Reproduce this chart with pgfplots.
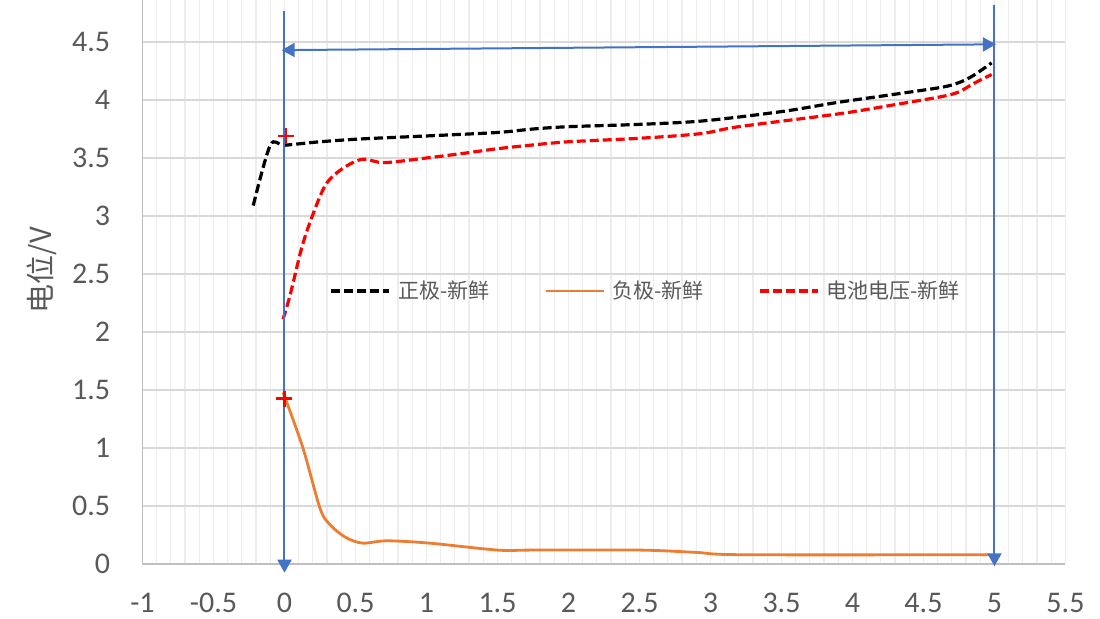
\documentclass[border=0pt]{standalone}
\usepackage{fontspec}
\setmainfont{Carlito}
\newfontfamily\cjk{Noto Sans CJK SC}
\usepackage{pgfplots}
\pgfplotsset{compat=1.18}
\usetikzlibrary{arrows.meta}
\definecolor{tickgray}{HTML}{595959}
\definecolor{hgrid}{HTML}{D9D9D9}
\definecolor{vgrid}{HTML}{EDEDED}
\definecolor{axgray}{HTML}{BFBFBF}
\definecolor{xlblue}{HTML}{4472C4}
\definecolor{xlorange}{HTML}{ED7D31}
\begin{document}
\begin{tikzpicture}
\path[use as bounding box] (-71.25pt,-27pt) rectangle (478.75pt,282pt);
\begin{axis}[
  at={(0,0)}, anchor=south west,
  scale only axis, width=461.5pt, height=282pt,
  xmin=-1, xmax=5.5, ymin=0, ymax=4.862,
  clip=false,
  xtick={-1,-0.5,0,0.5,1,1.5,2,2.5,3,3.5,4,4.5,5,5.5},
  ytick={0,0.5,1,1.5,2,2.5,3,3.5,4,4.5},
  minor x tick num=4,
  xmajorgrids, xminorgrids, ymajorgrids,
  major x grid style={color=vgrid, line width=0.6pt},
  minor x grid style={color=vgrid, line width=0.6pt},
  major y grid style={color=hgrid, line width=0.9pt},
  axis x line*=bottom, axis y line*=left,
  axis line style={color=axgray, line width=0.9pt, -},
  major tick length=0pt, minor tick length=0pt,
  /pgf/number format/assume math mode=true,
  tick label style={font=\fontsize{15}{18}\selectfont, color=tickgray, inner sep=0pt},
  xticklabel style={anchor=north, yshift=-14.5pt},
  yticklabel style={anchor=east, xshift=-16pt},
  ylabel={电位/V},
  ylabel style={at={(axis description cs:-0.1089,0.521)}, anchor=center, font=\cjk\fontsize{14.5}{17}\selectfont, color=tickgray},
  legend columns=3,
  legend style={at={(axis description cs:0.203,0.484)}, anchor=west, draw=none, fill=none,
    inner sep=0pt, outer sep=0pt, font=\cjk\fontsize{10.5}{12}\selectfont, text=tickgray,
    nodes={inner sep=0pt},
    /tikz/every odd column/.style={column sep=3.5pt},
    /tikz/every even column/.style={column sep=27.5pt}},
  legend image code/.code={\draw[#1] (0pt,0pt) -- (29pt,0pt);},
]
\addplot[black, line width=1.6pt, dash pattern=on 4.5pt off 2pt, smooth] coordinates {
 (-0.22,3.09) (-0.1,3.61) (0,3.61) (0.25,3.64) (0.55,3.665) (1,3.69) (1.5,3.72) (1.75,3.75)
 (2,3.77) (2.5,3.79) (2.95,3.82) (3.5,3.90) (3.9,3.98) (4.3,4.05) (4.63,4.11) (4.75,4.15)
 (4.85,4.21) (4.98,4.32)};
\addlegendentry{正极-新鲜}
\addplot[xlorange, line width=1.4pt, smooth] coordinates {
 (-0.01,1.48) (0.13,1.0) (0.25,0.48) (0.32,0.34) (0.43,0.23) (0.55,0.18)
 (0.72,0.20) (1.02,0.18) (1.5,0.12) (1.75,0.12) (2.5,0.12) (2.9,0.10) (3.23,0.08) (4.97,0.08)};
\addlegendentry{负极-新鲜}
\addplot[red, line width=1.6pt, dash pattern=on 4.5pt off 2pt, smooth] coordinates {
 (-0.01,2.11) (0.04,2.32) (0.12,2.72) (0.19,2.98) (0.29,3.27) (0.41,3.41) (0.55,3.49)
 (0.7,3.46) (1,3.5) (1.26,3.54) (1.5,3.58) (1.73,3.61) (2,3.64) (2.5,3.67) (2.93,3.71)
 (3.2,3.77) (3.9,3.88) (4.3,3.96) (4.63,4.03) (4.75,4.07) (4.85,4.14) (4.98,4.22)};
\addlegendentry{电池电压-新鲜}
\addplot[xlblue, line width=1pt, -{Triangle[length=6.5pt,width=7pt]}, forget plot] coordinates {(0,4.77) (0,-0.075)};
\addplot[xlblue, line width=1pt, -{Triangle[length=6.5pt,width=7pt]}, forget plot] coordinates {(5,4.82) (5,-0.02)};
\addplot[xlblue, line width=1pt, {Triangle[length=6.5pt,width=7pt]}-{Triangle[length=6.5pt,width=7pt]}, forget plot] coordinates {(-0.02,4.43) (5.01,4.48)};
\addplot[red, only marks, mark=+, mark size=4pt, line width=1.3pt, forget plot] coordinates {(0.01,3.69) (0,1.425)};
\end{axis}
\end{tikzpicture}
\end{document}
